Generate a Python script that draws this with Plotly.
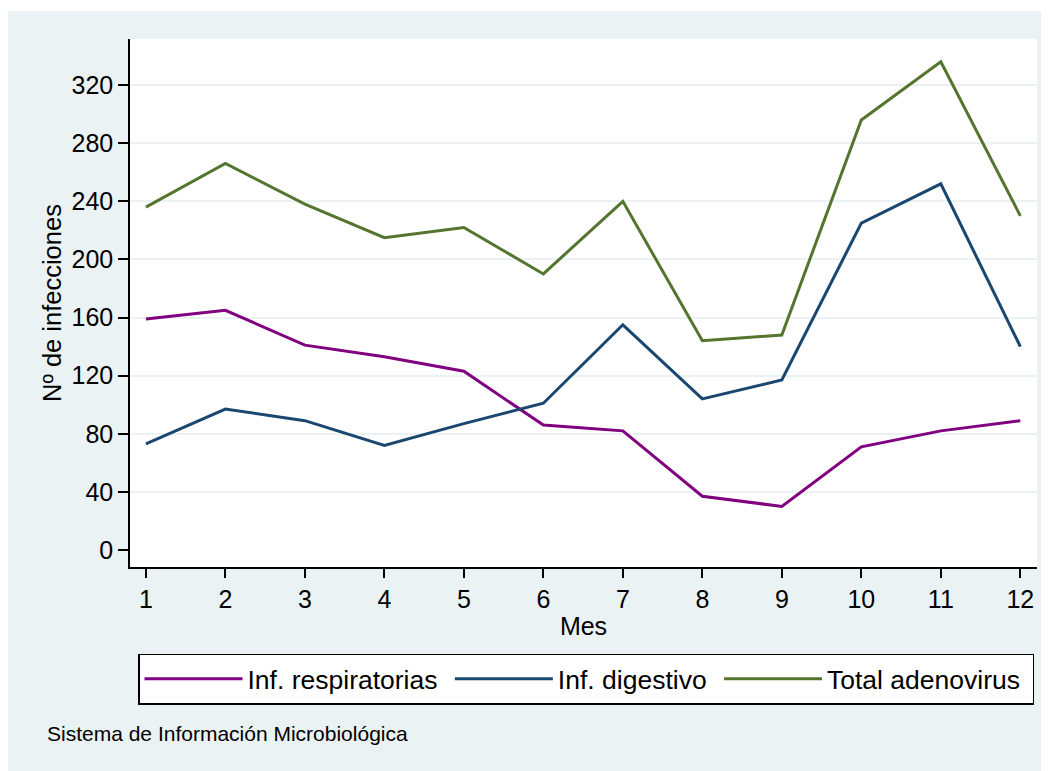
import plotly.graph_objects as go

meses = [1, 2, 3, 4, 5, 6, 7, 8, 9, 10, 11, 12]
inf_respiratorias = [159, 165, 141, 133, 123, 86, 82, 37, 30, 71, 82, 89]
inf_digestivo = [73, 97, 89, 72, 87, 101, 155, 104, 117, 225, 252, 140]
total_adenovirus = [236, 266, 238, 215, 222, 190, 240, 144, 148, 296, 336, 230]

y_ticks = [0, 40, 80, 120, 160, 200, 240, 280, 320]
grid_ticks = [40, 80, 120, 160, 200, 240, 280, 320]

series_names = ["Inf. respiratorias", "Inf. digestivo", "Total adenovirus"]
series_colors = ["#800080", "#1a476f", "#55752f"]

FONT = "Liberation Sans, Arial, sans-serif"
BG = "#eaf2f3"

# page offset of the figure (body margin)
OFF = 8
W, H = 1049, 771
L = 130 - OFF
T = 39 - OFF
PLOT_RIGHT = 1037 - OFF
PLOT_BOTTOM = 567 - OFF
R = W - PLOT_RIGHT
B = H - PLOT_BOTTOM
PW, PH = PLOT_RIGHT - L, PLOT_BOTTOM - T


def px_x(p):
    return (p - OFF - L) / PW


def px_y(p):
    return (PLOT_BOTTOM - (p - OFF)) / PH


fig = go.Figure()
for name, vals, col in zip(series_names, [inf_respiratorias, inf_digestivo, total_adenovirus], series_colors):
    # trailing no-break space widens the legend entry spacing slightly
    fig.add_trace(go.Scatter(x=meses, y=vals, mode="lines", name=name + "\u00a0",
                             line=dict(color=col, width=3)))

# invisible trace for the grid-only overlay axis
fig.add_trace(go.Scatter(x=[meses[0]], y=[grid_ticks[0]], yaxis="y2", mode="lines",
                         showlegend=False, hoverinfo="skip", line=dict(width=0)))

yr = [-11.7, 351.7]
fig.update_layout(
    width=W, height=H,
    margin=dict(l=L, r=R, t=T, b=B, autoexpand=False),
    paper_bgcolor="white",
    plot_bgcolor="white",
    font=dict(family=FONT, color="black", size=25),
    xaxis=dict(
        range=[0.8, 12.21], tickmode="array", tickvals=meses,
        showgrid=False, zeroline=False, showline=True, linecolor="black", linewidth=1.5,
        ticks="outside", ticklen=9, tickwidth=1.5, tickcolor="black",
        tickfont=dict(size=25), automargin=False,
        title=dict(text="Mes", font=dict(size=25), standoff=6),
    ),
    yaxis=dict(
        range=yr, tickmode="array", tickvals=y_ticks,
        showgrid=False, zeroline=False, showline=True, linecolor="black", linewidth=1.5,
        ticks="outside", ticklen=10, tickwidth=1.5, tickcolor="black",
        tickfont=dict(size=25), automargin=False,
        title=dict(text="Nº de infecciones", font=dict(size=25.5), standoff=3),
    ),
    yaxis2=dict(
        range=yr, overlaying="y", tickmode="array", tickvals=grid_ticks,
        showgrid=True, gridcolor=BG, gridwidth=2, showticklabels=False,
        zeroline=False, showline=False, ticks="",
    ),
    legend=dict(
        orientation="h", x=px_x(138), xanchor="left", y=px_y(679), yanchor="middle",
        bgcolor="white", bordercolor="black", borderwidth=1.5,
        font=dict(size=26.5), itemwidth=98,
    ),
    showlegend=True,
    shapes=[
        dict(type="rect", xref="paper", yref="paper", x0=px_x(8), x1=px_x(1080),
             y0=px_y(800), y1=px_y(11), fillcolor=BG, line=dict(width=0), layer="below"),
        dict(type="rect", xref="paper", yref="paper", x0=0, x1=1, y0=0, y1=1,
             fillcolor="white", line=dict(width=0), layer="below"),
    ],
    annotations=[
        dict(text="Sistema de Información Microbiológica", xref="paper", yref="paper",
             x=px_x(45), y=px_y(733), xanchor="left", yanchor="middle",
             showarrow=False, font=dict(size=21)),
    ],
)

fig.write_html("out.html")
